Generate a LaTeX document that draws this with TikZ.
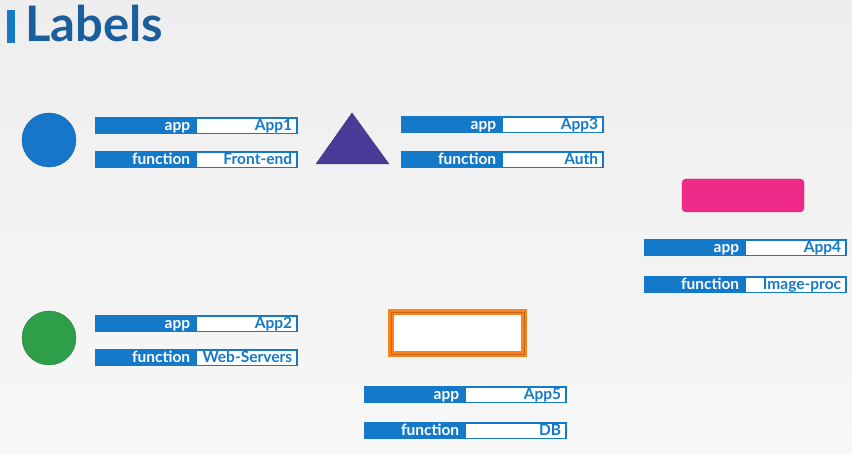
\documentclass[tikz,border=0pt]{standalone}
\usepackage{fontspec}
\setmainfont{Lato}
\usetikzlibrary{positioning}
\definecolor{lblBlue}{HTML}{1479C9}
\definecolor{titleBlue}{HTML}{1B5E9E}
\definecolor{podBlue}{HTML}{1677CA}
\definecolor{podPurple}{HTML}{4B3A97}
\definecolor{podPink}{HTML}{EF2A89}
\definecolor{podGreen}{HTML}{2F9E48}
\definecolor{podOrange}{HTML}{F7821F}
\definecolor{bgTop}{HTML}{EEEEEE}
\definecolor{bgBottom}{HTML}{F7F7F7}
\newcommand{\lblfont}{\fontsize{15.5}{15.5}\selectfont\bfseries}

\begin{document}
\begin{tikzpicture}[x=1pt, y=-1pt,
  keybox/.style={fill=lblBlue, text=white, font=\lblfont, text width=90pt,
    align=right, inner xsep=5pt, inner ysep=1pt, minimum height=17pt,
    text height=12.5pt, text depth=2.5pt, anchor=north west},
  valbox/.style={draw=lblBlue, line width=1.4pt, fill=white, text=lblBlue,
    font=\lblfont, text width=91pt, align=right, inner xsep=5pt, inner ysep=0.3pt,
    minimum height=15.6pt, text height=12.5pt, text depth=2.5pt, anchor=west}]

  %% --- background and title ---
  \shade[top color=bgTop, bottom color=bgBottom] (0,0) rectangle (852,454);
  \useasboundingbox (0,0) rectangle (852,454);
  \fill[lblBlue] (7,10) rectangle (15,43);
  \node[anchor=base west, inner sep=0pt, text=titleBlue,
    font=\fontsize{49}{49}\selectfont\bfseries] (title) at (25,42) {Labels};

  %% --- pods ---
  \node[circle, fill=podBlue, draw=podBlue!80!black, minimum size=54pt] (pod1) at (49,140) {};
  \node[circle, fill=podGreen, draw=podGreen!80!black, minimum size=54pt] (pod2) at (49,338) {};
  \draw[fill=podPurple, draw=podPurple!80!black] (316,164) -- (352,113) -- (389,164) -- cycle;
  \node[rectangle, rounded corners=4pt, fill=podPink, draw=podPink!75!black,
    minimum width=122pt, minimum height=33pt] (pod4) at (743,195.5) {};
  \node[rectangle, fill=white, draw=podOrange, line width=5.5pt,
    minimum width=133pt, minimum height=42pt] (pod5) at (457.5,333) {};
  \draw[podOrange!80!black, thin] ([shift={(3,3)}]pod5.north west)
    rectangle ([shift={(-3,-3)}]pod5.south east);

  %% --- label pairs ---
  \node[keybox] (key1) at (95,117) {app};
  \node[valbox] (val1) at (key1.east) {App1};
  \node[keybox] (fkey1) at (95,151) {function};
  \node[valbox] (fval1) at (fkey1.east) {Front-end};

  \node[keybox] (key3) at (401,116) {app};
  \node[valbox] (val3) at (key3.east) {App3};
  \node[keybox] (fkey3) at (401,151) {function};
  \node[valbox] (fval3) at (fkey3.east) {Auth};

  \node[keybox] (key4) at (644,239) {app};
  \node[valbox] (val4) at (key4.east) {App4};
  \node[keybox] (fkey4) at (644,276) {function};
  \node[valbox] (fval4) at (fkey4.east) {Image-proc};

  \node[keybox] (key2) at (95,315) {app};
  \node[valbox] (val2) at (key2.east) {App2};
  \node[keybox] (fkey2) at (95,349) {function};
  \node[valbox] (fval2) at (fkey2.east) {Web-Servers};

  \node[keybox] (key5) at (364,386) {app};
  \node[valbox] (val5) at (key5.east) {App5};
  \node[keybox] (fkey5) at (364,422) {function};
  \node[valbox] (fval5) at (fkey5.east) {DB};
\end{tikzpicture}
\end{document}
